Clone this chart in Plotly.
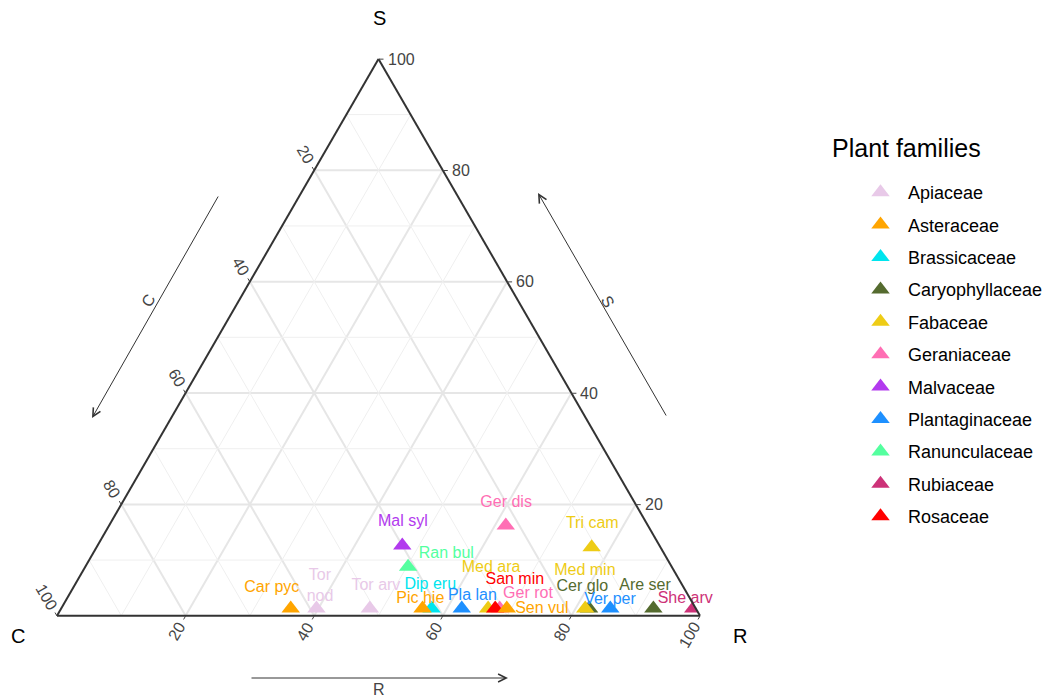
import math
import plotly.graph_objects as go

# ---------------- data ----------------
families = ["Apiaceae", "Asteraceae", "Brassicaceae", "Caryophyllaceae", "Fabaceae",
            "Geraniaceae", "Malvaceae", "Plantaginaceae", "Ranunculaceae", "Rubiaceae", "Rosaceae"]
family_colors = ["#E8C9E8", "#FFA500", "#00E5EE", "#556B2F", "#EECC16",
                 "#FF6EB4", "#B23AEE", "#1E90FF", "#54FF9F", "#CD3278", "#FF0000"]

species = ["Car pyc", "Tor nod", "Tor arv", "Pic hie", "Dip eru", "Pla lan", "Med ara",
           "San min", "Ger rot", "Sen vul", "Med min", "Cer glo", "Ver per", "Are ser",
           "She arv", "Mal syl", "Ran bul", "Ger dis", "Tri cam"]
species_family = ["Asteraceae", "Apiaceae", "Apiaceae", "Asteraceae", "Brassicaceae",
                  "Plantaginaceae", "Fabaceae", "Rosaceae", "Geraniaceae", "Asteraceae",
                  "Fabaceae", "Caryophyllaceae", "Plantaginaceae", "Caryophyllaceae",
                  "Rubiaceae", "Malvaceae", "Ranunculaceae", "Geraniaceae", "Fabaceae"]
C_vals = [63.0, 59.0, 50.7, 42.5, 41.1, 36.4, 32.3, 31.2, 30.5, 29.4, 17.2, 16.6, 13.3,
          6.6, 0.4, 40.0, 41.0, 22.1, 10.7]
S_vals = [1.3, 1.3, 1.3, 1.3, 1.3, 1.3, 1.3, 1.3, 1.3, 1.3, 1.3, 1.3, 1.3,
          1.3, 1.3, 12.6, 8.8, 16.2, 12.3]
R_vals = [35.7, 39.7, 48.0, 56.2, 57.6, 62.3, 66.4, 67.5, 68.2, 69.3, 81.5, 82.1, 85.4,
          92.1, 98.3, 47.4, 50.2, 61.7, 77.0]
species_text = ["Car pyc", "Tor<br>nod", "Tor arv", "Pic hie", "Dip eru", "Pla lan", "Med ara",
                "San min", "Ger rot", "Sen vul", "Med min", "Cer glo", "Ver per", "Are ser",
                "She arv", "Mal syl", "Ran bul", "Ger dis", "Tri cam"]

tick_values = [20, 40, 60, 80, 100]
tick_labels = ["20", "40", "60", "80", "100"]
minor_values = [10, 30, 50, 70, 90]

# ---------------- label placement (ternary coordinates of the text labels) ----------------
label_C = [64.1, 56.5, 47.7, 42.0, 39.2, 33.6, 28.2, 25.6, 24.8, 24.0, 13.9, 15.7, 12.6,
           5.9, 0.8, 37.8, 33.9, 20.0, 8.5]
label_S = [5.0, 5.2, 5.4, 3.0, 5.5, 3.6, 8.6, 6.4, 3.9, 1.2, 8.0, 5.2, 2.8,
           5.3, 3.0, 16.8, 11.1, 20.3, 16.5]
label_R = [30.9, 38.3, 46.9, 55.0, 55.3, 62.8, 63.2, 68.0, 71.3, 74.8, 78.1, 79.1, 84.6,
           88.8, 96.2, 45.4, 55.0, 59.7, 75.0]

# ---------------- geometry of the ternary panel (pixels) ----------------
W, H = 1048, 698
TX0, TX1, TYB = 57, 700, 616           # left / right vertex x, bottom y
TW = TX1 - TX0
TH = TW * math.sqrt(3) / 2
SQ = math.sqrt(3) / 2


def tern_px(S, R):
    """pixel position of a ternary point (percent S, percent R)"""
    return TX0 + TW * (R / 100 + S / 200), TYB - TH * S / 100


col = dict(zip(families, family_colors))

fig = go.Figure()

# minor grid lines (every 10, between the labelled 20-steps)
ga, gb, gc = [], [], []
for v in minor_values:
    ga += [v, v, None]; gb += [100 - v, 0, None]; gc += [0, 100 - v, None]
    ga += [100 - v, 0, None]; gb += [v, v, None]; gc += [0, 100 - v, None]
    ga += [100 - v, 0, None]; gb += [0, 100 - v, None]; gc += [v, v, None]
fig.add_trace(go.Scatterternary(a=ga, b=gb, c=gc, mode="lines",
                                line=dict(color="#efefef", width=1),
                                hoverinfo="skip", showlegend=False))

draw_order = ["Apiaceae", "Brassicaceae", "Caryophyllaceae", "Fabaceae", "Geraniaceae",
              "Malvaceae", "Plantaginaceae", "Ranunculaceae", "Rubiaceae", "Rosaceae", "Asteraceae"]
for fam in draw_order:
    idx = [i for i, f in enumerate(species_family) if f == fam]
    fig.add_trace(go.Scatterternary(
        a=[S_vals[i] for i in idx], b=[C_vals[i] for i in idx], c=[R_vals[i] for i in idx],
        mode="markers", name=fam, legendgroup=fam, legendrank=families.index(fam) + 1,
        marker=dict(symbol="triangle-up", size=16, color=col[fam]),
        text=[species[i] for i in idx], hoverinfo="text+name"))

fig.add_trace(go.Scatterternary(
    a=label_S, b=label_C, c=label_R, mode="text", text=species_text,
    textposition="middle center",
    textfont=dict(size=16, color=[col[f] for f in species_family]),
    cliponaxis=False, hoverinfo="skip", showlegend=False))

axis_common = dict(tickmode="array", tickvals=tick_values, ticks="", showticklabels=False,
                   showline=True, linecolor="#333", linewidth=2,
                   showgrid=True, gridcolor="#e6e6e6", gridwidth=2, min=0,
                   title=dict(text=""))

fig.update_layout(
    width=W, height=H,
    margin=dict(l=0, r=0, t=0, b=0),
    paper_bgcolor="white",
    font=dict(family="Arial, Liberation Sans, sans-serif", color="#444"),
    ternary=dict(
        sum=100, bgcolor="white",
        domain=dict(x=[TX0 / W, TX1 / W], y=[(H - TYB) / H, (H - TYB + TH + 0.5) / H]),
        aaxis=axis_common, baxis=axis_common, caxis=axis_common,
    ),
    legend=dict(x=853 / W, y=1 - 174 / H, xanchor="left", yanchor="top",
                font=dict(size=18, color="black"), itemwidth=45,
                tracegroupgap=6, bgcolor="rgba(0,0,0,0)"),
    showlegend=True,
)

# ---------------- tick labels and tick marks of the three axes ----------------
tick_style = dict(xref="paper", yref="paper", showarrow=False, xanchor="center",
                  yanchor="middle", font=dict(size=16, color="#444"))
for v, lab in zip(tick_values, tick_labels):
    d = 22 if len(lab) == 3 else 18
    # C axis (left edge): point with C = v
    x, y = tern_px(100 - v, 0)
    fig.add_annotation(x=(x - d * 0.5) / W, y=1 - (y - d * SQ) / H, text=lab, textangle=60,
                       **tick_style)
    fig.add_shape(type="line", xref="paper", yref="paper", x0=x / W, y0=1 - y / H,
                  x1=(x - 4 * 0.5) / W, y1=1 - (y - 4 * SQ) / H, line=dict(color="#444", width=1))
    # R axis (bottom edge): point with R = v
    x, y = tern_px(0, v)
    fig.add_annotation(x=(x - d * 0.5) / W, y=1 - (y + d * SQ) / H, text=lab, textangle=-60,
                       **tick_style)
    fig.add_shape(type="line", xref="paper", yref="paper", x0=x / W, y0=1 - y / H,
                  x1=(x - 4 * 0.5) / W, y1=1 - (y + 4 * SQ) / H, line=dict(color="#444", width=1))
    # S axis (right edge): point with S = v, C = 0
    x, y = tern_px(v, 100 - v)
    fig.add_annotation(x=(x + 7) / W, y=1 - y / H, text=lab, xref="paper", yref="paper",
                       showarrow=False, xanchor="left", yanchor="middle",
                       font=dict(size=16, color="#444"))
    fig.add_shape(type="line", xref="paper", yref="paper", x0=x / W, y0=1 - y / H,
                  x1=(x + 5) / W, y1=1 - y / H, line=dict(color="#444", width=1))

# vertex titles
vt_style = dict(xref="paper", yref="paper", showarrow=False, xanchor="center",
                yanchor="middle", font=dict(size=20, color="black"))
fig.add_annotation(x=379 / W, y=1 - 18 / H, text="S", **vt_style)
fig.add_annotation(x=18 / W, y=1 - 636 / H, text="C", **vt_style)
fig.add_annotation(x=740 / W, y=1 - 636 / H, text="R", **vt_style)

# legend title
fig.add_annotation(x=830 / W, y=1 - 148 / H, xref="paper", yref="paper", xanchor="left",
                   yanchor="middle", text="Plant families", showarrow=False,
                   font=dict(size=25, color="black"))

# axis direction arrows and their labels
arrow_style = dict(xref="paper", yref="paper", axref="pixel", ayref="pixel", text="",
                   showarrow=True, arrowhead=5, arrowsize=1.6, arrowwidth=1, arrowcolor="#333")
fig.add_annotation(x=92 / W, y=1 - 418 / H, ax=127, ay=-223, **arrow_style)
fig.add_annotation(x=538 / W, y=1 - 193 / H, ax=129, ay=224, **arrow_style)
fig.add_annotation(x=508 / W, y=1 - 678 / H, ax=-258, ay=0, **arrow_style)
lab_style = dict(xref="paper", yref="paper", showarrow=False, xanchor="center",
                 yanchor="middle", font=dict(size=16, color="#444"))
fig.add_annotation(x=148 / W, y=1 - 300 / H, text="C", textangle=-60, **lab_style)
fig.add_annotation(x=608 / W, y=1 - 301 / H, text="S", textangle=60, **lab_style)
fig.add_annotation(x=379 / W, y=1 - 689 / H, text="R", **lab_style)

fig.write_html("out.html", config={"displayModeBar": False},
               post_script="document.body.style.margin='0px';")
